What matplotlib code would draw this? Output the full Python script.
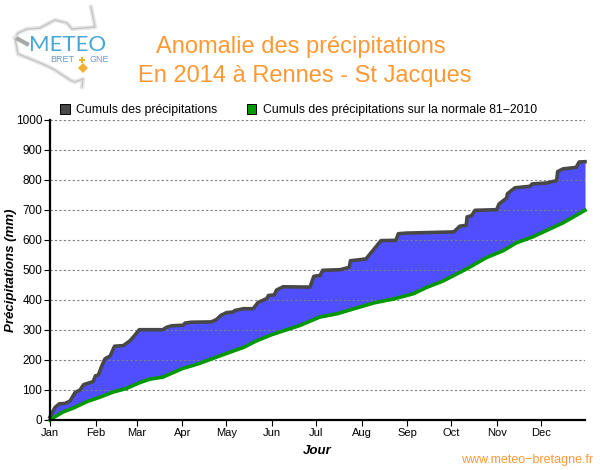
import matplotlib
matplotlib.use("Agg")
import matplotlib.pyplot as plt
from matplotlib.patches import Patch

plt.rcParams["font.family"] = ["Liberation Sans", "DejaVu Sans"]

months = ["Jan", "Feb", "Mar", "Apr", "May", "Jun", "Jul", "Aug", "Sep", "Oct", "Nov", "Dec"]
month_days = [0, 31, 59, 90, 120, 151, 181, 212, 243, 273, 304, 334]
y_ticks = [0, 100, 200, 300, 400, 500, 600, 700, 800, 900, 1000]

days_obs = [0, 3.4, 6.4, 10, 13.6, 17, 20.4, 22.9, 29.4, 30.9, 32.9, 34.9, 37.4, 40.9, 43.9, 49.9, 54.4, 57.8, 60.8,
            76.8, 79.3, 82.8, 90.8, 91.8, 96.2, 109.7, 113.3, 116.3, 120.2, 124.7, 125.7, 131.6, 138.2, 141.6, 147.6,
            148.6, 152.6, 154.1, 158.6, 176.9, 179.5, 183.8, 185.5, 197.5, 203.6, 204.4, 208.4, 215, 225.2, 235.4,
            237, 242.6, 274.8, 278.8, 283.2, 283.8, 286.8, 289.2, 303.9, 305.5, 310.7, 311.2, 316.3,
            326.6, 328.1, 337.9, 344.7, 345.4, 349, 358, 360, 364]
rain_obs = [10, 42, 54, 55, 63, 91, 100, 118, 128, 147, 150, 176, 204, 213, 246, 248, 264, 283, 301,
            301, 309, 314, 316, 323, 326, 327, 335, 349, 358, 360, 365, 371, 371, 392, 405,
            415, 417, 433, 444, 443, 479, 482, 499, 501, 509, 531, 533, 537, 598, 599,
            621, 623, 627, 646, 649, 677, 681, 699, 701, 720, 740, 754, 774,
            779, 787, 790, 798, 828, 837, 842, 860, 861]

days_norm = [0, 3.4, 9, 16, 25, 33.9, 42.9, 51.9, 60.8, 67.8, 76.8, 89.8, 100.7, 120.2, 131.6, 140.6, 150.6, 158.6, 170,
             183.5, 195.2, 220.1, 233.4, 247.3, 256.3, 267.3, 283.2, 297.2, 308.2, 317.1, 328.7, 349, 364]
rain_norm = [0, 11, 27, 40, 61, 76, 93, 105, 124, 136, 143, 171, 187, 222, 242, 264, 284, 297, 315,
             343, 354, 390, 403, 421, 442, 463, 503, 542, 564, 590, 611, 657, 699]

# logo outline, pixel positions
logo_north_x = [15, 18, 27, 40, 55, 67, 72, 95, 91]
logo_north_y = [38, 33, 29, 28, 20, 23, 29, 27, 7]
logo_south_x = [15, 18, 33, 45, 55, 70, 75, 83, 82]
logo_south_y = [38, 54, 60, 65, 70, 80, 82, 79, 87]

# the fill needs both curves on the same days
all_days = sorted(set(days_obs) | set(days_norm))


def interp(x, xs, ys):
    for i in range(len(xs) - 1):
        if xs[i] <= x <= xs[i + 1]:
            return ys[i] + (ys[i + 1] - ys[i]) * (x - xs[i]) / (xs[i + 1] - xs[i])
    return ys[-1]


fill_top = [interp(d, days_obs, rain_obs) for d in all_days]
fill_bot = [interp(d, days_norm, rain_norm) for d in all_days]

fig = plt.figure(figsize=(6, 4.7), dpi=100)
ax = fig.add_axes([50 / 600, 50 / 470, 535 / 600, 300 / 470])

ax.fill_between(all_days, fill_bot, fill_top, color="#4f4fff", lw=0, zorder=2)
ax.plot(days_obs, rain_obs, color="#484848", lw=2.6, zorder=4, solid_joinstyle="round", clip_on=False)
ax.plot(days_norm, rain_norm, color="#009900", lw=2.6, zorder=5, solid_joinstyle="round", clip_on=False)

ax.set_xlim(0, 364)
ax.set_ylim(0, 1000)
ax.set_xticks(month_days)
ax.set_xticklabels(months, fontsize=8)
ax.set_yticks(y_ticks)
ax.tick_params(axis="y", labelsize=8.5, length=4, width=0.8, pad=1.5)
ax.tick_params(axis="x", length=4, width=0.8, pad=1.5)
ax.yaxis.grid(True, color="#808080", ls=(0, (2, 2)), lw=0.8, zorder=3)
ax.set_axisbelow(False)
for s in ["top", "right"]:
    ax.spines[s].set_visible(False)
for s in ["left", "bottom"]:
    ax.spines[s].set_linewidth(1.6)
    ax.spines[s].set_zorder(6)

ax.set_xlabel("Jour", fontsize=9.5, fontweight="bold", style="italic", labelpad=5.5)
ax.set_ylabel("Précipitations (mm)", fontsize=9.5, fontweight="bold", style="italic")
ax.yaxis.set_label_coords(-33 / 535, 0.5)

handles = [Patch(facecolor="#484848", edgecolor="black", lw=0.7),
           Patch(facecolor="#009900", edgecolor="black", lw=0.7)]
ax.legend(handles, ["Cumuls des précipitations", "Cumuls des précipitations sur la normale 81\u22122010"],
          loc="lower left", bbox_to_anchor=(9 / 535, 1.009), ncol=2, frameon=False, fontsize=8.8,
          handlelength=0.8, handleheight=0.85, handletextpad=0.5, columnspacing=2.4,
          borderaxespad=0, borderpad=0.1)

# overlay in pixel coordinates for the header, logo and footer
ov = fig.add_axes([0, 0, 1, 1], zorder=-1)
ov.set_xlim(0, 600)
ov.set_ylim(470, 0)
ov.axis("off")

ov.text(300.5, 46.5, "Anomalie des précipitations", color="#ff9933", fontsize=17, ha="center", va="center")
ov.text(304.5, 76, "En 2014 à Rennes - St Jacques", color="#ff9933", fontsize=17, ha="center", va="center")
ov.text(593, 459.5, "www.meteo\u2212bretagne.fr", color="#ff9933", fontsize=9, ha="right", va="center")

# logo: a soft grey coast behind the lettering
for xs, ys in [(logo_north_x, logo_north_y), (logo_south_x, logo_south_y)]:
    ov.plot(xs, ys, color="#e8e8e8", lw=3.2, solid_joinstyle="round")
    ov.plot(xs, ys, color="#c4c4c4", lw=1.0, solid_joinstyle="round")
ov.plot([18, 27], [39, 44], color="#a8a8a8", lw=3)
ov.text(67.5, 45, "METEO", color="#45a8d8", fontsize=16, ha="center", va="center", family="Lato")
ov.text(74, 60, "BRET", color="#6a9cc0", fontsize=6.5, ha="right", va="center")
ov.text(90, 60, "GNE", color="#6a9cc0", fontsize=6.5, ha="left", va="center")
ov.plot([82], [60], marker="P", ms=4.5, color="#f0b030", mew=0)
ov.plot([83], [68], marker="D", ms=5, color="#f0b030", mew=0)

plt.savefig("out.png", dpi=100)
